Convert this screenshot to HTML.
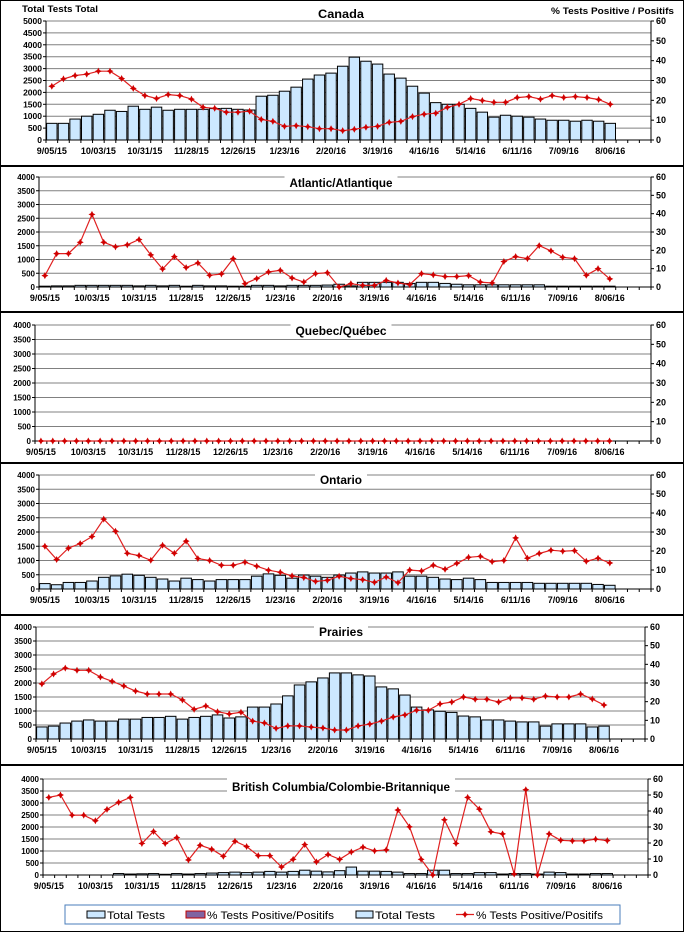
<!DOCTYPE html>
<html><head><meta charset="utf-8"><style>
html,body{margin:0;padding:0;background:#fff;}
svg{display:block;font-family:"Liberation Sans",Arial,sans-serif;}
</style></head><body>
<svg id="s" width="684" height="932" viewBox="0 0 684 932" xmlns="http://www.w3.org/2000/svg">
<rect x="0" y="0" width="684" height="932" fill="#fff"/>
<text x="22" y="12" font-size="9" font-weight="bold" textLength="76" lengthAdjust="spacingAndGlyphs">Total Tests Total</text>
<text x="551" y="14" font-size="9" font-weight="bold" textLength="123" lengthAdjust="spacingAndGlyphs">% Tests Positive / Positifs</text>
</svg>
<script>
var S=document.getElementById('s'),NS='http://www.w3.org/2000/svg';
function el(t,a,txt){var e=document.createElementNS(NS,t);for(var k in a)e.setAttribute(k,a[k]);if(txt!=null)e.textContent=txt;S.appendChild(e);return e;}
var xl=['9/05/15','10/03/15','10/31/15','11/28/15','12/26/15','1/23/16','2/20/16','3/19/16','4/16/16','5/14/16','6/11/16','7/09/16','8/06/16'];
function panel(c){
 var L=c.L,R=c.R,T=c.T,B=c.B,n=52,cw=(R-L)/n,H=B-T;
 var nt=c.max/500;
 for(var i=0;i<=nt;i++){var y=B-H*i/nt;
  if(i>0)el('line',{x1:L,y1:y,x2:R,y2:y,stroke:'#808080','stroke-width':1});
  el('line',{x1:L-3,y1:y,x2:L,y2:y,stroke:'#000'});
  el('text',{x:L-4,y:y+3,'font-size':c.lfs,'font-weight':'bold','text-anchor':'end'},String(i*500));}
 for(var i=0;i<=6;i++){var y=B-H*i/6;
  el('line',{x1:R,y1:y,x2:R+3,y2:y,stroke:'#000'});
  el('text',{x:R+5,y:y+3,'font-size':9,'font-weight':'bold'},String(i*10));}
 if(c.title){var tw=c.tw;
  if(c.th!==0)el('rect',{x:341-tw/2-5,y:T-1,width:tw+10,height:c.th||14,fill:'#fff'});
  el('text',{x:341-tw/2,y:c.ty,'font-size':12,'font-weight':'bold',textLength:tw,lengthAdjust:'spacingAndGlyphs'},c.title);}
 var bars=c.bars;
 for(var i=0;i<bars.length;i++){var h=H*bars[i]/c.max;if(h<0.5)continue;
  el('rect',{x:L+i*cw+0.6,y:B-h,width:cw-1.2,height:h,fill:'#CCE8FF',stroke:'#000','stroke-width':1});}
 el('line',{x1:L,y1:T,x2:L,y2:B,stroke:'#000'});
 el('line',{x1:R,y1:T,x2:R,y2:B,stroke:'#000'});
 el('line',{x1:L,y1:B,x2:R,y2:B,stroke:'#000'});
 for(var i=0;i<=n;i++){var x=L+i*cw;el('line',{x1:x,y1:B,x2:x,y2:B+3,stroke:'#000'});}
 for(var k=0;k<xl.length;k++){var x=L+(k*4+0.5)*cw;
  el('text',{x:x,y:B+14,'font-size':9,'font-weight':'bold','text-anchor':'middle'},xl[k]);}
 var p=c.pct,pts=[];
 for(var i=0;i<p.length;i++)pts.push((L+(i+0.5)*cw).toFixed(1)+','+(B-H*p[i]/60).toFixed(1));
 el('polyline',{points:pts.join(' '),fill:'none',stroke:'#E02020','stroke-width':1.2});
 for(var i=0;i<p.length;i++){var x=L+(i+0.5)*cw,y=B-H*p[i]/60;
  el('path',{d:'M'+x+','+(y-3.5)+' L'+(x+1.2)+','+(y-1.2)+' L'+(x+3.5)+','+y+' L'+(x+1.2)+','+(y+1.2)+' L'+x+','+(y+3.5)+' L'+(x-1.2)+','+(y+1.2)+' L'+(x-3.5)+','+y+' L'+(x-1.2)+','+(y-1.2)+'Z',fill:'#D00000'});}
}
function z(n){var a=[];for(var i=0;i<n;i++)a.push(0);return a;}
panel({L:46,R:651,T:21,B:140,max:5000,lfs:8.5,title:'Canada',tw:46,ty:18,th:0,
bars:[700,700,880,1000,1080,1250,1200,1420,1290,1380,1250,1290,1290,1290,1320,1330,1290,1260,1840,1880,2050,2220,2560,2730,2810,3100,3480,3310,3190,2770,2600,2260,1970,1570,1500,1500,1330,1170,960,1040,1000,960,880,830,830,790,830,790,700],
pct:[27.1,30.8,32.5,33.2,34.7,34.7,31,26,22.4,20.9,22.9,22.4,20.6,16.5,16,14,14,14.5,10.4,9.4,6.9,7.2,6.7,5.7,5.7,4.7,5.4,6.4,6.9,8.9,9.4,11.8,13,13.5,16.5,18,20.9,19.9,19,19,21.4,21.9,20.6,22.4,21.4,21.9,21.4,20.4,18]});
panel({L:39,R:651,T:177,B:287,max:4000,lfs:8,title:'Atlantic/Atlantique',tw:103,ty:187,
bars:[30,40,40,60,60,60,60,60,40,60,40,60,30,60,40,40,30,30,60,60,40,60,60,60,70,100,40,170,170,170,170,130,170,170,130,100,80,80,80,80,80,80,80,30,30,30,30,30,30],
pct:[6.2,18.2,18.2,24.4,39.6,24.4,21.9,23,25.9,17.5,9.8,16.6,10.6,13.1,6.4,7.1,15.5,1.8,4.6,8.2,9.1,4.9,2.7,7.3,7.8,0,1.8,0.9,0.9,3.6,2.2,1.3,7.3,6.6,5.7,5.7,6.2,2.7,2.2,13.9,16.6,15.5,22.6,19.7,16.2,15.5,6.4,10,4.4]});
panel({L:35,R:651,T:325,B:441,max:4000,lfs:8,title:'Quebec/Québec',tw:91,ty:335,bars:z(49),pct:z(49)});
panel({L:39,R:651,T:475,B:589,max:4000,lfs:8,title:'Ontario',tw:42,ty:484,
bars:[190,150,230,230,280,410,460,520,480,410,350,280,380,330,280,330,330,330,450,530,480,380,490,450,410,490,560,600,560,560,600,450,450,410,350,330,380,330,230,230,230,230,200,200,200,200,200,160,130],
pct:[22.5,15.5,21.5,23.9,27.6,36.8,30.4,18.8,17.6,15.1,23,18.8,25.2,16,15,12.5,12.5,14.1,12,9.9,8.8,6.9,6,4,4.6,6.7,5.5,4.9,3.5,6.3,3.3,10,9.5,12.5,10.4,13.5,16.7,17.2,14.4,15,26.9,16.2,18.7,20.4,19.9,20.2,14.6,16.2,13.7]});
panel({L:36,R:645,T:627,B:739,max:4000,lfs:8,title:'Prairies',tw:44,ty:636,
bars:[430,460,570,640,680,640,640,710,710,770,770,810,710,770,810,860,750,790,1140,1140,1250,1540,1930,2040,2180,2360,2360,2290,2250,1860,1790,1570,1140,1040,990,950,820,790,680,680,640,610,610,460,540,540,540,430,460],
pct:[29.5,34.8,38,36.8,36.8,33.2,30.9,28.4,25.7,24.1,24.1,24.1,20.9,15.9,17.7,14.6,13.4,14.3,9.6,8.6,5.7,7,7,6.4,5.9,4.8,4.8,7,8,9.6,11.8,12.9,15.4,15.4,18.8,19.8,22.5,21.3,21.3,19.8,22,22,21.3,23,22.5,22.5,24.1,21.4,18.2]});
panel({L:43,R:648,T:779,B:875,max:4000,lfs:8,title:'British Columbia/Colombie-Britannique',tw:218,ty:791,th:17,
bars:[20,20,20,20,20,20,60,40,50,60,30,60,40,60,80,100,120,100,120,150,120,150,200,160,130,180,330,160,160,150,120,60,60,200,200,60,60,100,100,40,60,60,40,120,100,40,40,60,60],
pct:[48.5,50,37.4,37.4,33.9,41,45.4,48.5,19.7,27.2,19.7,23.4,9.4,18.6,16.1,11.7,21.1,17.8,12.1,12.1,5,9.8,19,8.2,12.8,9.8,14.4,17.4,15.1,15.7,40.6,30.1,9.8,0,34.5,19.7,48.5,41.2,27,25.7,0.6,53.3,0,25.7,21.7,21.3,21.3,22.4,21.5]});
el('rect',{x:0.5,y:0.5,width:683,height:931,fill:'none',stroke:'#000'});
[166,312,463,615,765].forEach(function(y){el('line',{x1:0,y1:y,x2:684,y2:y,stroke:'#000','stroke-width':2});});
el('rect',{x:65,y:905,width:555,height:19,fill:'#fff',stroke:'#4A7EBB'});
el('rect',{x:87,y:911,width:18,height:7,fill:'#CCE8FF',stroke:'#000'});
el('text',{x:107,y:919,'font-size':11,textLength:58,lengthAdjust:'spacingAndGlyphs'},'Total Tests');
el('rect',{x:186,y:911,width:19,height:7,fill:'#8064A2',stroke:'#C00000'});
el('text',{x:207,y:919,'font-size':11,textLength:127,lengthAdjust:'spacingAndGlyphs'},'% Tests Positive/Positifs');
el('rect',{x:356,y:911,width:17,height:7,fill:'#CCE8FF',stroke:'#000'});
el('text',{x:375,y:919,'font-size':11,textLength:60,lengthAdjust:'spacingAndGlyphs'},'Total Tests');
el('line',{x1:456,y1:914.5,x2:474,y2:914.5,stroke:'#E02020','stroke-width':1.2});
el('path',{d:'M465,911 L466.2,913.3 L468.5,914.5 L466.2,915.7 L465,918 L463.8,915.7 L461.5,914.5 L463.8,913.3Z',fill:'#D00000'});
el('text',{x:476,y:919,'font-size':11,textLength:127,lengthAdjust:'spacingAndGlyphs'},'% Tests Positive/Positifs');
</script>
</body></html>
